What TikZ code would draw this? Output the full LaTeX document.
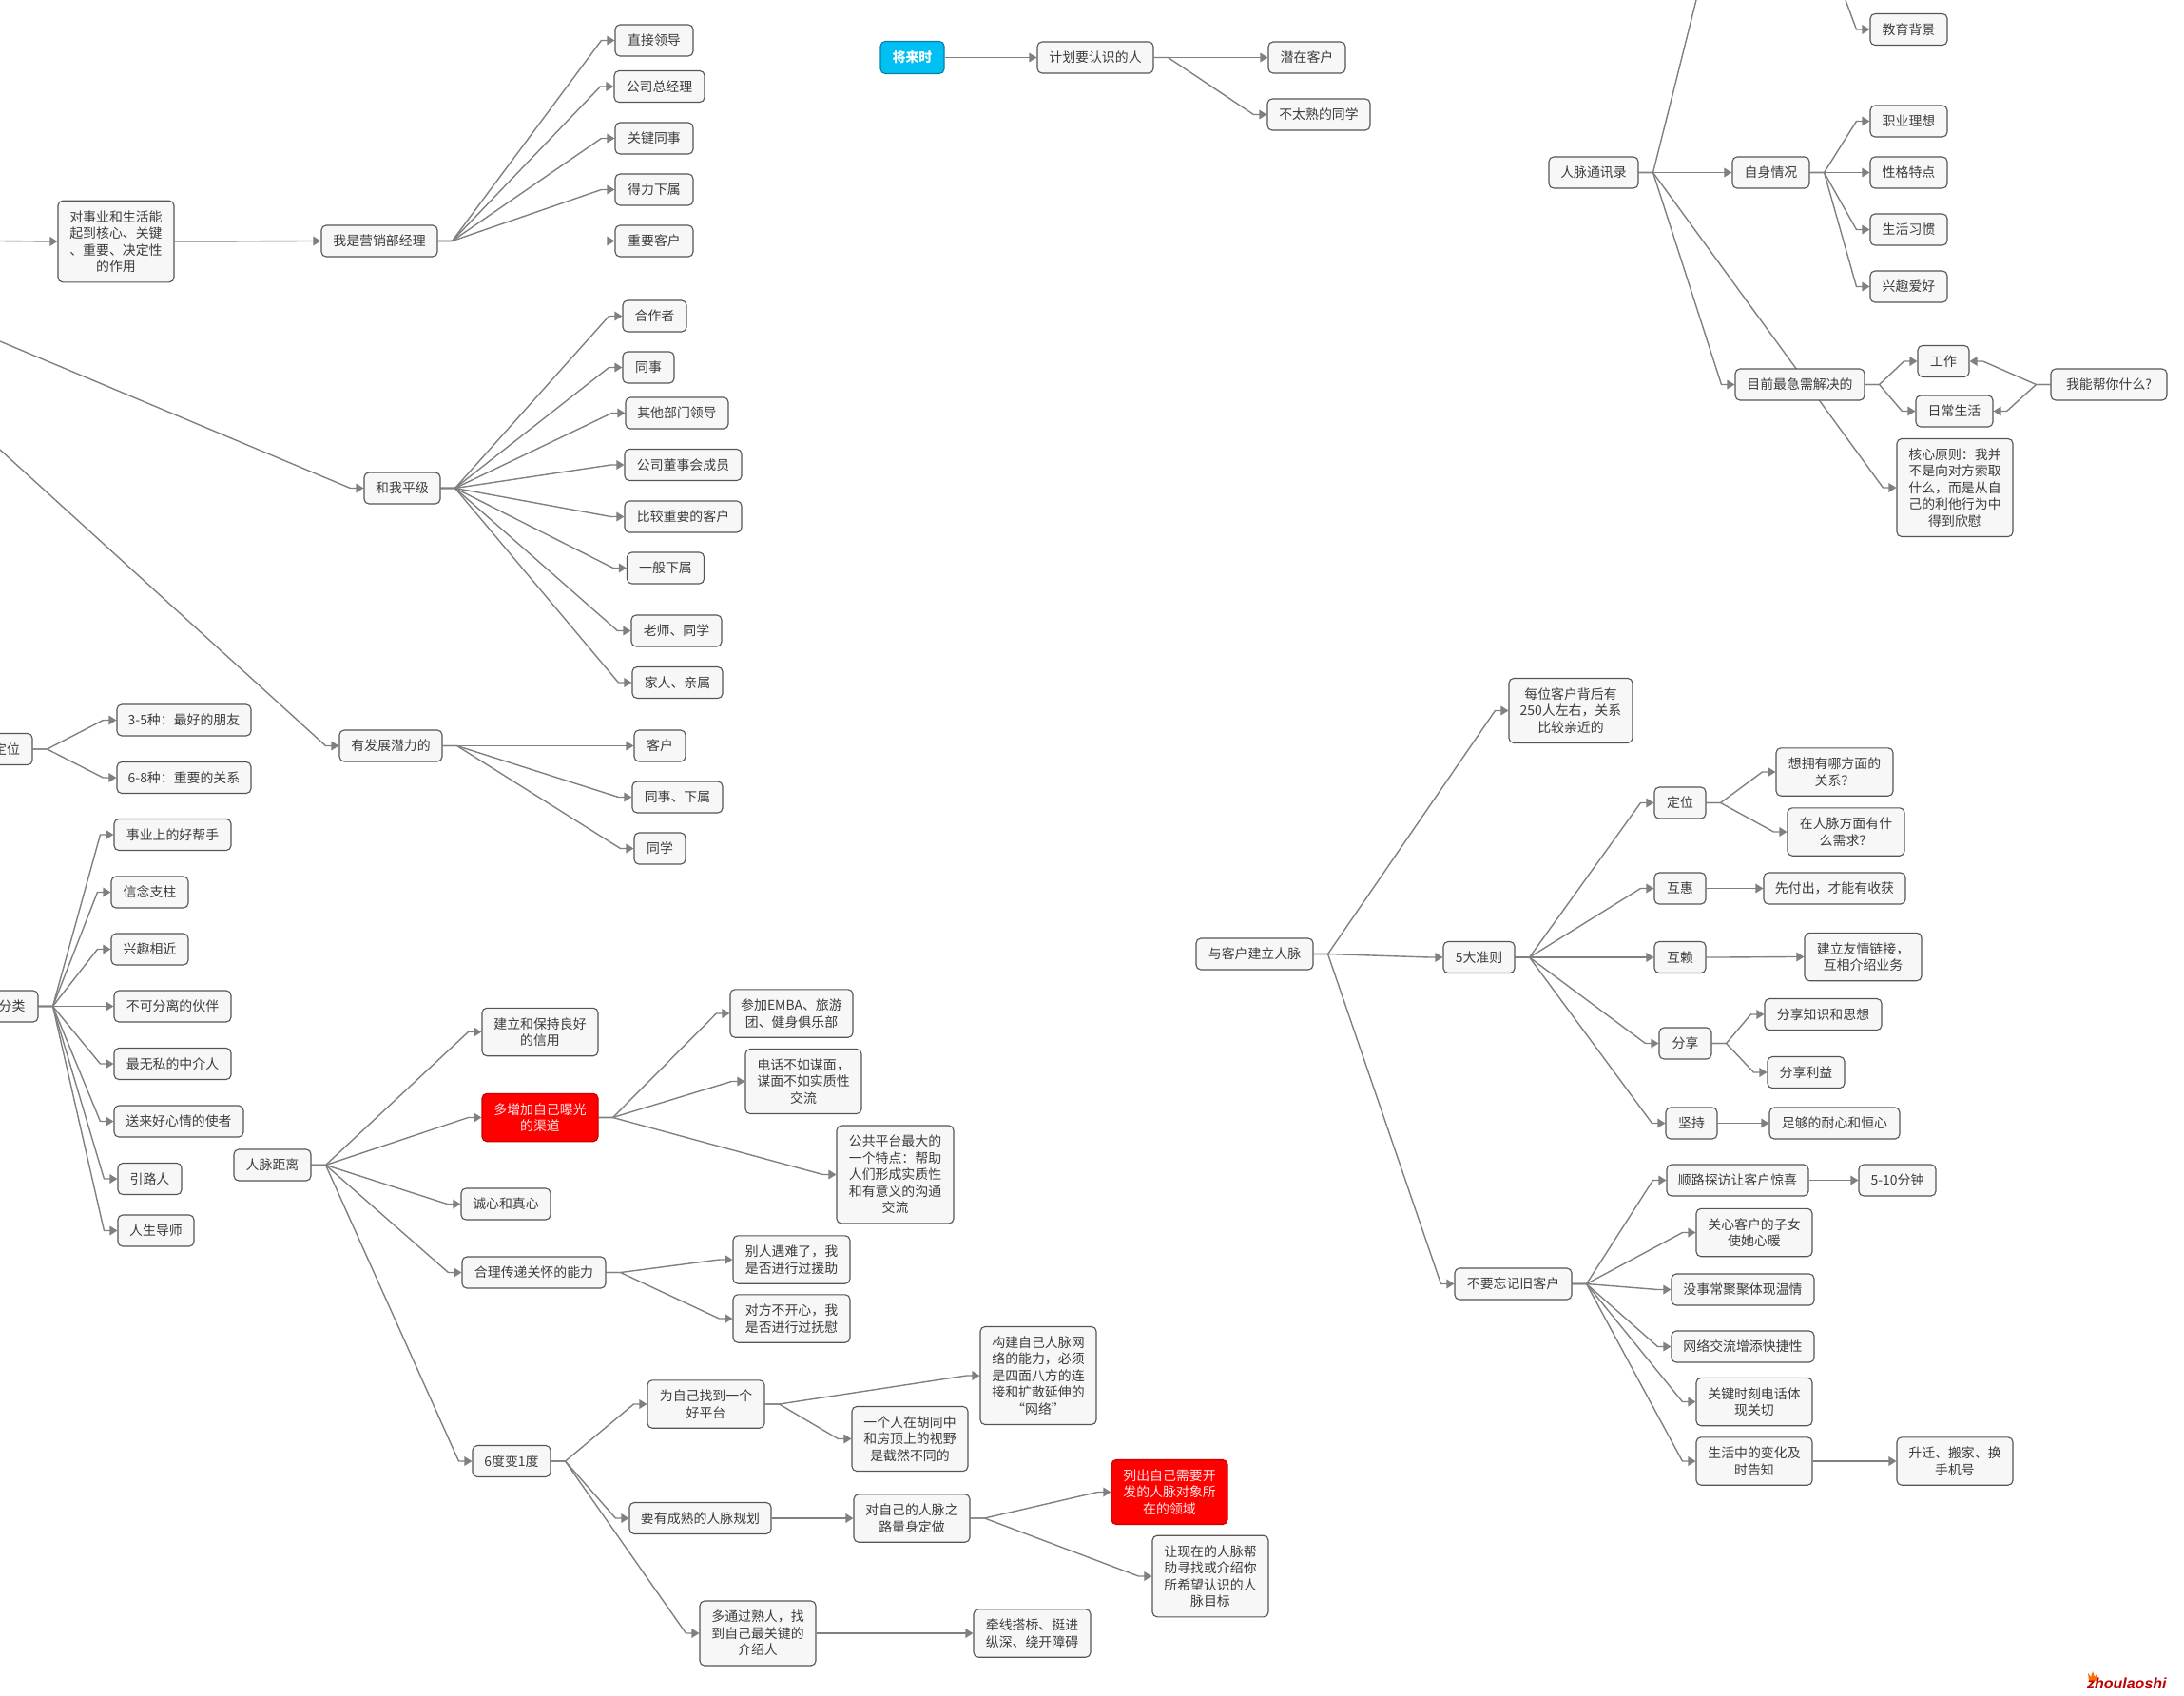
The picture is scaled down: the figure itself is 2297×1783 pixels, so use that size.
\documentclass[tikz,border=0pt]{standalone}
\usepackage{fontspec}
\setmainfont{Noto Sans CJK SC}
\newfontfamily\markfont{Liberation Sans}
\usetikzlibrary{arrows.meta,backgrounds}
\definecolor{linegray}{HTML}{808080}
\definecolor{boxfill}{HTML}{F7F7F7}
\definecolor{boxline}{HTML}{555555}
\definecolor{txtgray}{HTML}{3C3C3C}
\definecolor{skyfill}{HTML}{00BFF3}
\definecolor{skyline}{HTML}{0A7FA6}
\tikzset{
	mbox/.style={draw=boxline,fill=boxfill,rounded corners=2.5pt,line width=0.55pt,text=txtgray,align=center,
		font=\fontsize{6.95}{8.75}\selectfont,inner sep=0pt,minimum height=16.5pt},
	bw/.style={minimum width=#1*0.5pt},
	hb2/.style={minimum height=25.2pt},
	hb3/.style={minimum height=34pt},
	hb4/.style={minimum height=42.8pt},
	hb5/.style={minimum height=51.5pt},
	redbox/.style={fill=red,draw=red!80!black,text=white!90!red},
	bluebox/.style={fill=skyfill,draw=skyline,text=white,minimum height=17pt},
	mline/.style={draw=linegray,line width=0.7pt,line join=round,-{Triangle[length=4pt,width=4.8pt]}}
}
\begin{document}
\begin{tikzpicture}[x=0.5pt,y=-0.5pt]
				\path[use as bounding box,clip] (0,0) rectangle (2297,1783);
				
				% left top
				\node[mbox,bw=122,hb4] (dsy) at (122,254) {对事业和生活能\\起到核心、关键\\、重要、决定性\\的作用};
				\node[mbox,bw=122] (wsyx) at (399,253.5) {我是营销部经理};
				\node[mbox,bw=82] (zjld) at (688,42.5) {直接领导};
				\node[mbox,bw=95] (gszjl) at (693.5,91) {公司总经理};
				\node[mbox,bw=82] (gjts) at (688,145.5) {关键同事};
				\node[mbox,bw=82] (dlxs) at (688,199.5) {得力下属};
				\node[mbox,bw=82] (zykh) at (688,253.5) {重要客户};
				
				\node[mbox,bw=80] (hwpj) at (423,513.5) {和我平级};
				\node[mbox,bw=67] (hzz) at (688.5,332.5) {合作者};
				\node[mbox,bw=54] (tshi) at (682,386.5) {同事};
				\node[mbox,bw=108] (qtbm) at (712,434.5) {其他部门领导};
				\node[mbox,bw=123] (gsds) at (718.5,489) {公司董事会成员};
				\node[mbox,bw=123] (bjzy) at (718.5,543.5) {比较重要的客户};
				\node[mbox,bw=81] (ybxs) at (700,597.5) {一般下属};
				\node[mbox,bw=95] (lsxt) at (711.5,663.5) {老师、同学};
				\node[mbox,bw=95] (jrqs) at (712.5,718) {家人、亲属};
				
				\node[mbox,bw=108] (yfz) at (411,784.5) {有发展潜力的};
				\node[mbox,bw=54] (khu) at (694,784.5) {客户};
				\node[mbox,bw=95] (tsxs) at (712.5,838.5) {同事、下属};
				\node[mbox,bw=54] (txue) at (694,892.5) {同学};
				
				% left edge
				\node[mbox,bw=54] (dwei) at (7,788) {定位};
				\node[mbox,bw=141] (sanwu) at (193.5,757.5) {3-5种：最好的朋友};
				\node[mbox,bw=141] (liuba) at (193.5,818) {6-8种：重要的关系};
				
				\node[mbox,bw=55] (flei) at (12.5,1058.5) {分类};
				\node[mbox,bw=123] (syhb) at (181.5,878) {事业上的好帮手};
				\node[mbox,bw=81] (xnzz) at (157.5,938.5) {信念支柱};
				\node[mbox,bw=81] (xqxj) at (157.5,998.5) {兴趣相近};
				\node[mbox,bw=123] (bkfl) at (181.5,1058.5) {不可分离的伙伴};
				\node[mbox,bw=123] (zwsz) at (181.5,1119) {最无私的中介人};
				\node[mbox,bw=136] (slhx) at (188,1179.5) {送来好心情的使者};
				\node[mbox,bw=67] (ylr) at (157.5,1240) {引路人};
				\node[mbox,bw=80] (rsds) at (164,1294.5) {人生导师};
				
				% distance
				\node[mbox,bw=81] (rmjl) at (286.5,1225.5) {人脉距离};
				\node[mbox,bw=122,hb2] (jlbc) at (568,1085.5) {建立和保持良好\\的信用};
				\node[mbox,bw=122,hb2,redbox] (dzj) at (568,1175.5) {多增加自己曝光\\的渠道};
				\node[mbox,bw=94] (cxzx) at (532,1266.5) {诚心和真心};
				\node[mbox,bw=151] (hlcd) at (561.5,1338.5) {合理传递关怀的能力};
				\node[mbox,bw=82] (ldbd) at (538,1537) {6度变1度};
				\node[mbox,bw=129,hb2] (cjem) at (832.5,1066) {参加EMBA、旅游\\团、健身俱乐部};
				\node[mbox,bw=122,hb3] (dhbr) at (845,1137.5) {电话不如谋面，\\谋面不如实质性\\交流};
				\node[mbox,bw=123,hb5] (ggpt) at (941.5,1235.5) {公共平台最大的\\一个特点：帮助\\人们形成实质性\\和有意义的沟通\\交流};
				\node[mbox,bw=123,hb2] (brnd) at (832.5,1325) {别人遇难了，我\\是否进行过援助};
				\node[mbox,bw=123,hb2] (dfbk) at (832.5,1387) {对方不开心，我\\是否进行过抚慰};
				\node[mbox,bw=123,hb2] (wzj) at (742.5,1477) {为自己找到一个\\好平台};
				\node[mbox,bw=122,hb5] (gjzj) at (1092,1447) {构建自己人脉网\\络的能力，必须\\是四面八方的连\\接和扩散延伸的\\“网络”};
				\node[mbox,bw=122,hb3] (ygr) at (957,1513.5) {一个人在胡同中\\和房顶上的视野\\是截然不同的};
				\node[mbox,bw=149] (yycs) at (736.5,1597) {要有成熟的人脉规划};
				\node[mbox,bw=122,hb2] (dzjr) at (959,1597) {对自己的人脉之\\路量身定做};
				\node[mbox,bw=122,hb3,redbox] (lczj) at (1230,1569.5) {列出自己需要开\\发的人脉对象所\\在的领域};
				\node[mbox,bw=122,hb4] (rxz) at (1273,1658) {让现在的人脉帮\\助寻找或介绍你\\所希望认识的人\\脉目标};
				\node[mbox,bw=122,hb3] (dtg) at (797,1718) {多通过熟人，找\\到自己最关键的\\介绍人};
				\node[mbox,bw=123,hb2] (qxdq) at (1085.5,1718) {牵线搭桥、挺进\\纵深、绕开障碍};
				
				% future
				\node[mbox,bw=67,bluebox,font=\fontsize{6.95}{8.75}\selectfont\bfseries] (jls) at (959.5,60.5) {将来时};
				\node[mbox,bw=122] (jhr) at (1152,60.5) {计划要认识的人};
				\node[mbox,bw=81] (qzkh) at (1374.5,60.5) {潜在客户};
				\node[mbox,bw=108] (btsd) at (1387,120.5) {不太熟的同学};
				
				% address book
				\node[mbox,bw=81] (jybj) at (2007.5,31) {教育背景};
				\node[mbox,bw=94] (rmtxl) at (1676,181.5) {人脉通讯录};
				\node[mbox,bw=81] (zsqk) at (1862.5,181.5) {自身情况};
				\node[mbox,bw=81] (zylx) at (2007.5,127.5) {职业理想};
				\node[mbox,bw=81] (xgtd) at (2007.5,181.5) {性格特点};
				\node[mbox,bw=81] (shxg) at (2007.5,241.5) {生活习惯};
				\node[mbox,bw=81] (xqah) at (2007.5,301.5) {兴趣爱好};
				\node[mbox,bw=136] (mqzj) at (1893,404.5) {目前最急需解决的};
				\node[mbox,bw=54] (gzuo) at (2044,380) {工作};
				\node[mbox,bw=81] (rcsh) at (2055.5,432.5) {日常生活};
				\node[mbox,bw=122] (wnbn) at (2218,404.5) {我能帮你什么?};
				\node[mbox,bw=122,hb5] (hxyz) at (2056,513) {核心原则：我并\\不是向对方索取\\什么，而是从自\\己的利他行为中\\得到欣慰};
				
				% customers
				\node[mbox,bw=123] (ykh) at (1319.5,1003.5) {与客户建立人脉};
				\node[mbox,bw=130,hb3] (mwkh) at (1652,747.5) {每位客户背后有\\250人左右，关系\\比较亲近的};
				\node[mbox,bw=75] (wdzz) at (1555.5,1007) {5大准则};
				\node[mbox,bw=54] (dw) at (1767,844.5) {定位};
				\node[mbox,bw=123,hb2] (xyy) at (1929.5,812) {想拥有哪方面的\\关系？};
				\node[mbox,bw=123,hb2] (zrm) at (1941.5,875) {在人脉方面有什\\么需求？};
				\node[mbox,bw=54] (hhui) at (1767,934.5) {互惠};
				\node[mbox,bw=149] (xfc) at (1929.5,934.5) {先付出，才能有收获};
				\node[mbox,bw=54] (hlai) at (1767,1007) {互赖};
				\node[mbox,bw=123,hb2] (jlyq) at (1959.5,1006.5) {建立友情链接，\\互相介绍业务};
				\node[mbox,bw=55] (fxg) at (1772.5,1097.5) {分享};
				\node[mbox,bw=123] (fxzs) at (1917.5,1067) {分享知识和思想};
				\node[mbox,bw=81] (fxly) at (1899.5,1128) {分享利益};
				\node[mbox,bw=54] (jchi) at (1779,1181.5) {坚持};
				\node[mbox,bw=137] (znx) at (1929.5,1181.5) {足够的耐心和恒心};
				\node[mbox,bw=123] (bwj) at (1591.5,1350.5) {不要忘记旧客户};
				\node[mbox,bw=149] (slu) at (1827.5,1241.5) {顺路探访让客户惊喜};
				\node[mbox,bw=81] (wsf) at (1995.5,1241.5) {5-10分钟};
				\node[mbox,bw=122,hb2] (gxkh) at (1845,1296.5) {关心客户的子女\\使她心暖};
				\node[mbox,bw=150] (msc) at (1833,1356.5) {没事常聚聚体现温情};
				\node[mbox,bw=150] (wljl) at (1833,1416.5) {网络交流增添快捷性};
				\node[mbox,bw=122,hb2] (gjsk) at (1845,1474.5) {关键时刻电话体\\现关切};
				\node[mbox,bw=122,hb2] (shbh) at (1845,1537) {生活中的变化及\\时告知};
				\node[mbox,bw=122,hb2] (sqbj) at (2056,1537) {升迁、搬家、换\\手机号};
				
				\coordinate (fa) at (0,253.5);
				\coordinate (fb) at (0,359);
				\coordinate (fc) at (0,473);
				\coordinate (fd) at (1784,0);
				\coordinate (fe) at (1941,0);
				
				\begin{pgfonlayer}{background}
					\foreach \a/\b in {dsy/wsyx,wsyx/zjld,wsyx/gszjl,wsyx/gjts,wsyx/dlxs,wsyx/zykh,
						hwpj/hzz,hwpj/tshi,hwpj/qtbm,hwpj/gsds,hwpj/bjzy,hwpj/ybxs,hwpj/lsxt,hwpj/jrqs,
						yfz/khu,yfz/tsxs,yfz/txue,dwei/sanwu,dwei/liuba,
						flei/syhb,flei/xnzz,flei/xqxj,flei/bkfl,flei/zwsz,flei/slhx,flei/ylr,flei/rsds,
						rmjl/jlbc,rmjl/dzj,rmjl/cxzx,rmjl/hlcd,rmjl/ldbd,dzj/cjem,dzj/dhbr,dzj/ggpt,hlcd/brnd,hlcd/dfbk,
						ldbd/wzj,ldbd/yycs,ldbd/dtg,wzj/gjzj,wzj/ygr,yycs/dzjr,dzjr/lczj,dzjr/rxz,dtg/qxdq,
						jls/jhr,jhr/qzkh,jhr/btsd,rmtxl/zsqk,rmtxl/mqzj,rmtxl/hxyz,
						zsqk/zylx,zsqk/xgtd,zsqk/shxg,zsqk/xqah,mqzj/gzuo,mqzj/rcsh,
						ykh/mwkh,ykh/wdzz,ykh/bwj,wdzz/dw,wdzz/hhui,wdzz/hlai,wdzz/fxg,wdzz/jchi,
						dw/xyy,dw/zrm,hhui/xfc,hlai/jlyq,fxg/fxzs,fxg/fxly,jchi/znx,
						bwj/slu,bwj/gxkh,bwj/msc,bwj/wljl,bwj/gjsk,bwj/shbh,slu/wsf,shbh/sqbj} {
						\draw[mline] (\a.east) -- ++(15,0) -- ([xshift=-7pt]\b.west) -- (\b.west);
					}
					\foreach \b in {gzuo,rcsh} {
						\draw[mline] (wnbn.west) -- ++(-15,0) -- ([xshift=7pt]\b.east) -- (\b.east);
					}
					\draw[mline] (fa) -- (dsy.west);
					\draw[mline] (fb) -- ([xshift=-7pt]hwpj.west) -- (hwpj.west);
					\draw[mline] (fc) -- ([xshift=-7pt]yfz.west) -- (yfz.west);
					\draw[mline] (fe) -- ([xshift=-7pt]jybj.west) -- (jybj.west);
					\draw[draw=linegray,line width=0.7pt] (rmtxl.east) -- ++(15,0) -- (fd);
				\end{pgfonlayer}
				
				\fill[orange!85!red] (2196,1760) -- (2199,1764) -- (2201,1758) -- (2203,1764) -- (2206,1760) -- (2205,1768) -- (2197,1768) -- cycle;
				\node[font=\markfont\bfseries\itshape\fontsize{8}{8}\selectfont,text=red!75!black,inner sep=0pt,anchor=base east] (wmark) at (2279,1776) {zhoulaoshi};
			\end{tikzpicture}
\end{document}
